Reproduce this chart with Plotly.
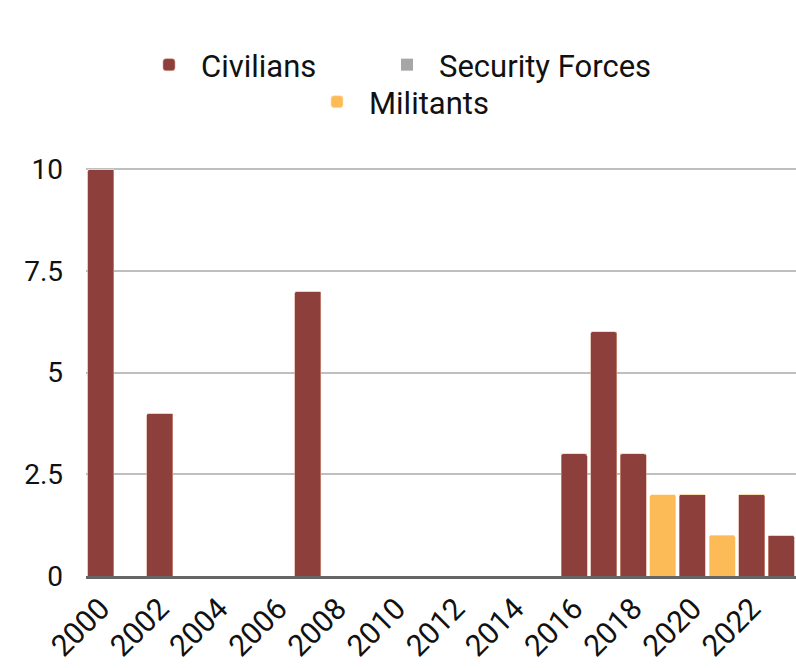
import plotly.graph_objects as go

years = list(range(2000, 2024))
civilians = [10, 0, 4, 0, 0, 0, 0, 7, 0, 0, 0, 0, 0, 0, 0, 0, 3, 6, 3, 0, 2, 0, 2, 1]
security_forces = [0] * 24
militants = [0, 0, 0, 0, 0, 0, 0, 0, 0, 0, 0, 0, 0, 0, 0, 0, 0, 0, 0, 2, 0, 1, 0, 0]
x_ticks = list(range(2000, 2024, 2))
y_ticks = [0, 2.5, 5, 7.5, 10]
y_tick_text = ["0", "2.5", "5", "7.5", "10"]

FONT = "Roboto"
fig = go.Figure()
fig.add_trace(go.Bar(x=years, y=civilians, name="Civilians",
                     marker=dict(color="#8D3F3B", cornerradius=2,
                                 line=dict(color="#D9A38F", width=0.6)),
                     legend="legend"))
fig.add_trace(go.Bar(x=years, y=security_forces, name="Security Forces",
                     marker=dict(color="#A6A6A6", line=dict(width=0)),
                     legend="legend3"))
fig.add_trace(go.Bar(x=years, y=militants, name="Militants",
                     marker=dict(color="#FDBB58", cornerradius=2,
                                 line=dict(color="#FFE3B0", width=0.6)),
                     legend="legend2"))

leg = dict(orientation="h", xref="container", yref="container",
           xanchor="left", yanchor="middle", itemwidth=54,
           bgcolor="rgba(0,0,0,0)", font=dict(size=31))

fig.update_layout(
    width=796, height=668,
    barmode="stack", bargap=0.12,
    plot_bgcolor="white", paper_bgcolor="white",
    margin=dict(l=86, r=0, t=168, b=92),
    font=dict(family=FONT, color="#111111", size=28),
    xaxis=dict(range=[1999.5, 2023.5], tickvals=x_ticks, tickangle=-45,
               showgrid=False, showline=True, linecolor="#666666", linewidth=3,
               ticks="", tickfont=dict(size=30), zeroline=False),
    yaxis=dict(range=[0, 10.03], tickvals=y_ticks, ticktext=y_tick_text,
               showgrid=True, gridcolor="#BFBFBF", gridwidth=2,
               zeroline=False, showline=False, ticks="",
               tickfont=dict(size=28), ticklabelstandoff=22),
    legend=dict(leg, x=137 / 796, y=1 - 65 / 668),
    legend3=dict(leg, x=375 / 796, y=1 - 65 / 668),
    legend2=dict(leg, x=305 / 796, y=1 - 102 / 668),
    showlegend=True,
)

fig.write_html("out.html")
